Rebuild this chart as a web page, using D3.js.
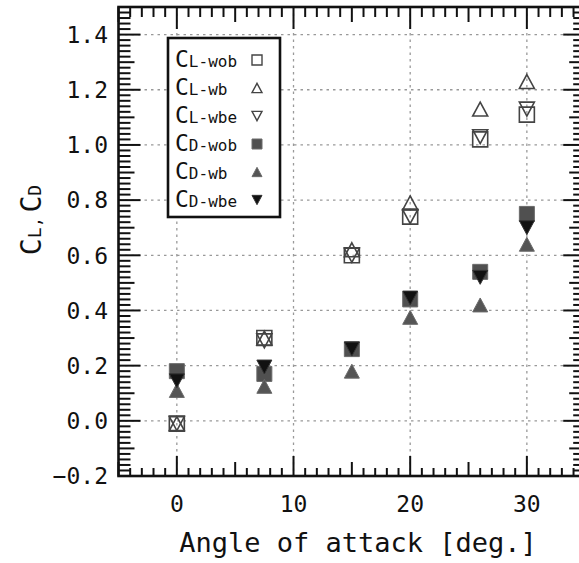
<!DOCTYPE html>
<html lang="en">
<head>
  <meta charset="UTF-8">
  <title>CL, CD vs angle of attack</title>
  <script src="https://d3js.org/d3.v7.min.js"></script>
  <style>
    body { margin: 0; background: #fff; }
    svg { display: block; overflow: hidden; }
    text { font-family: "DejaVu Sans Mono", monospace; fill: #111; }
    .tick-label { font-size: 23px; }
  </style>
</head>
<body>
<svg width="579" height="563"></svg>
<script>
  // data
  const angles = [0, 7.5, 15, 20, 26, 30];
  const clWob = [-0.01, 0.30, 0.60, 0.74, 1.02, 1.11];
  const clWb  = [-0.01, 0.30, 0.62, 0.79, 1.13, 1.23];
  const clWbe = [-0.01, 0.29, 0.60, 0.74, 1.03, 1.13];
  const cdWob = [0.18, 0.17, 0.26, 0.44, 0.54, 0.75];
  const cdWb  = [0.11, 0.125, 0.18, 0.375, 0.42, 0.64];
  const cdWbe = [0.145, 0.195, 0.26, 0.445, 0.52, 0.70];

  const seriesMain = ["C", "C", "C", "C", "C", "C"];
  const seriesSub = ["L-wob", "L-wb", "L-wbe", "D-wob", "D-wb", "D-wbe"];

  const xTicks = [0, 10, 20, 30];
  const yTicks = [-0.2, 0, 0.2, 0.4, 0.6, 0.8, 1.0, 1.2, 1.4];
  const yTickLabels = ["\u22120.2", "0.0", "0.2", "0.4", "0.6", "0.8", "1.0", "1.2", "1.4"];

  // marker shapes, centred on their bounding box
  const triUp = {
    draw(ctx, size) {
      const s = Math.sqrt(size), h = s * 0.93;
      ctx.moveTo(0, -h / 2); ctx.lineTo(s / 2, h / 2); ctx.lineTo(-s / 2, h / 2); ctx.closePath();
    }
  };
  const triDown = {
    draw(ctx, size) {
      const s = Math.sqrt(size), h = s * 0.93;
      ctx.moveTo(0, h / 2); ctx.lineTo(s / 2, -h / 2); ctx.lineTo(-s / 2, -h / 2); ctx.closePath();
    }
  };

  const series = [
    {vals: clWob, type: d3.symbolSquare, fill: "none", stroke: "#444"},
    {vals: clWb,  type: triUp,           fill: "none", stroke: "#444"},
    {vals: clWbe, type: triDown,         fill: "none", stroke: "#444"},
    {vals: cdWob, type: d3.symbolSquare, fill: "#505050", stroke: "#6a6a6a"},
    {vals: cdWb,  type: triUp,           fill: "#555", stroke: "#6a6a6a"},
    {vals: cdWbe, type: triDown,         fill: "#111", stroke: "#333"}
  ];

  const svg = d3.select("svg");
  const x = d3.scaleLinear().domain([-5, 35]).range([118.5, 585.2]);
  const y = d3.scaleLinear().domain([-0.2, 1.5]).range([476, 7]);
  const [x0, x1] = x.range();
  const [y0, y1] = y.range();

  // dotted grid
  const grid = svg.append("g").attr("stroke", "#999").attr("stroke-width", 1.3)
          .attr("stroke-dasharray", "2.5,4");
  grid.selectAll(".gx").data(xTicks).enter().append("line")
          .attr("x1", d => x(d)).attr("x2", d => x(d))
          .attr("y1", y1).attr("y2", y0);
  grid.selectAll(".gy").data(yTicks.slice(1)).enter().append("line")
          .attr("x1", x0).attr("x2", x1)
          .attr("y1", d => y(d)).attr("y2", d => y(d));

  // markers
  series.forEach(s => {
    svg.append("g").selectAll("path")
            .data(s.vals)
            .enter()
            .append("path")
            .attr("transform", (d, i) => `translate(${x(angles[i])},${y(d)})`)
            .attr("d", d3.symbol().type(s.type).size(225))
            .attr("fill", s.fill)
            .attr("stroke", s.stroke)
            .attr("stroke-width", s.fill === "none" ? 1.6 : 1);
  });

  // inward ticks on all four sides
  const xTickVals = d3.range(-5, 35.5, 1);
  const yTickVals = d3.range(-10, 76, 1).map(i => i * 0.02);
  const xLen = (v, minor, mid, major) => v % 10 === 0 ? major : (v % 5 === 0 ? mid : minor);
  const yLen = (v, minor, mid, major) => {
    const k = Math.round(v * 50);
    return k % 10 === 0 ? major : (k % 5 === 0 ? mid : minor);
  };
  const ticks = svg.append("g").attr("stroke", "#111").attr("stroke-width", 2);
  ticks.selectAll(".tb").data(xTickVals).enter().append("line")
          .attr("x1", d => x(d)).attr("x2", d => x(d))
          .attr("y1", y0).attr("y2", d => y0 - xLen(d, 8, 14, 20));
  ticks.selectAll(".tt").data(xTickVals).enter().append("line")
          .attr("x1", d => x(d)).attr("x2", d => x(d))
          .attr("y1", y1).attr("y2", d => y1 + xLen(d, 10, 15, 22));
  ticks.selectAll(".tl").data(yTickVals).enter().append("line")
          .attr("y1", d => y(d)).attr("y2", d => y(d))
          .attr("x1", x0).attr("x2", d => x0 + yLen(d, 12, 16, 22));
  ticks.selectAll(".tr").data(yTickVals).enter().append("line")
          .attr("y1", d => y(d)).attr("y2", d => y(d))
          .attr("x1", x1).attr("x2", d => x1 - yLen(d, 12, 16, 22));

  // frame
  svg.append("rect")
          .attr("x", x0).attr("y", y1)
          .attr("width", x1 - x0).attr("height", y0 - y1)
          .attr("fill", "none").attr("stroke", "#111").attr("stroke-width", 2.6);

  // tick labels
  svg.append("g").selectAll("text")
          .data(xTicks)
          .enter()
          .append("text")
          .attr("class", "tick-label")
          .attr("x", d => x(d))
          .attr("y", 512)
          .attr("text-anchor", "middle")
          .text(d => d);
  svg.append("g").selectAll("text")
          .data(yTicks)
          .enter()
          .append("text")
          .attr("class", "tick-label")
          .attr("x", 108)
          .attr("y", d => y(d))
          .attr("dy", "0.36em")
          .attr("text-anchor", "end")
          .text((d, i) => yTickLabels[i]);

  // axis titles
  svg.append("text")
          .attr("x", 358)
          .attr("y", 552)
          .attr("text-anchor", "middle")
          .style("font-size", "27px")
          .text("Angle of attack [deg.]");

  const yTitle = svg.append("text")
          .attr("transform", "translate(41,220) rotate(-90)")
          .attr("text-anchor", "middle");
  yTitle.append("tspan").style("font-size", "28px").text("C");
  yTitle.append("tspan").style("font-size", "18px").text("L,");
  yTitle.append("tspan").style("font-size", "28px").attr("dx", 4).text("C");
  yTitle.append("tspan").style("font-size", "18px").text("D");

  // legend
  const legend = svg.append("g");
  legend.append("rect")
          .attr("x", 168).attr("y", 38)
          .attr("width", 112).attr("height", 179)
          .attr("fill", "#fff").attr("stroke", "#111").attr("stroke-width", 2.6);
  series.forEach((s, i) => {
    const by = 67 + i * 28;
    const t = legend.append("text").attr("x", 175).attr("y", by);
    t.append("tspan").style("font-size", "23px").text(seriesMain[i]);
    t.append("tspan").style("font-size", "16px").text(seriesSub[i]);
    legend.append("path")
            .attr("transform", `translate(257,${by - 7})`)
            .attr("d", d3.symbol().type(s.type).size(100))
            .attr("fill", s.fill)
            .attr("stroke", s.stroke)
            .attr("stroke-width", s.fill === "none" ? 1.4 : 1);
  });
</script>
</body>
</html>
